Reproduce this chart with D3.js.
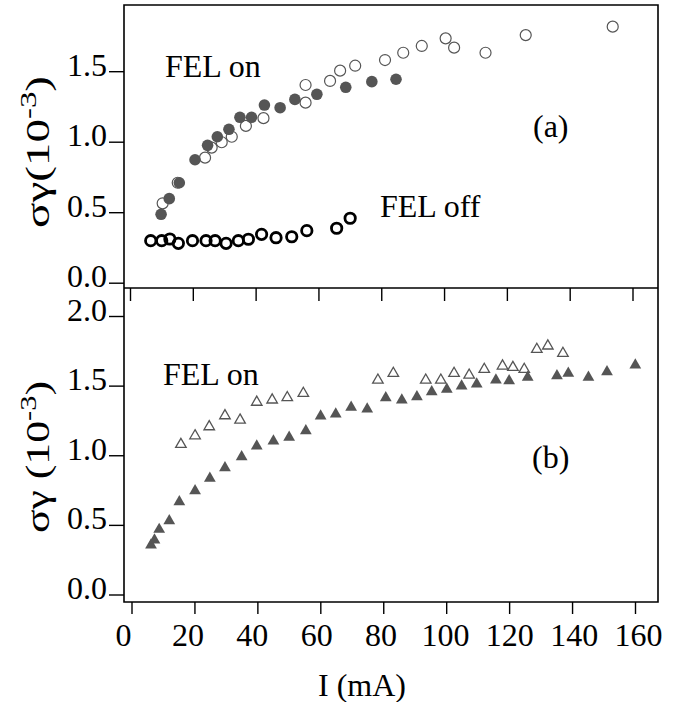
<!DOCTYPE html>
<html><head><meta charset="utf-8">
<script src="https://cdn.jsdelivr.net/npm/d3@7"></script>
<style>body{margin:0;background:#fff}svg{display:block}text{font-family:"Liberation Serif","Times New Roman",serif;fill:#000}</style>
</head><body>
<script>
// ---------- data ----------
const xTicks = [0,20,40,60,80,100,120,140,160];
const yTicksTop = [0,0.5,1.0,1.5];
const yTicksBot = [0,0.5,1.0,1.5,2.0];

// (a) FEL off, open black circles
const offI = [6.6,10.1,12.7,15.4,19.9,24.2,27.1,30.6,34.5,37.7,41.9,46.5,51.5,56.3,65.8,70.1];
const offS = [0.298,0.298,0.310,0.279,0.298,0.298,0.298,0.279,0.298,0.308,0.343,0.319,0.326,0.369,0.386,0.457];
// (a) FEL on, filled circles
const onFillI = [9.9,12.5,15.7,20.7,24.7,27.8,31.5,35.0,38.7,42.8,47.8,52.5,59.5,68.7,77.0,84.7];
const onFillS = [0.485,0.596,0.709,0.872,0.974,1.035,1.088,1.173,1.173,1.260,1.241,1.300,1.336,1.386,1.426,1.443];
// (a) FEL on, open circles
const onOpenI = [10.4,15.2,23.9,26.0,29.2,32.4,36.9,42.5,55.9,55.9,63.7,66.9,71.7,81.2,87.0,92.9,100.5,103.2,113.2,126.0,153.7];
const onOpenS = [0.563,0.709,0.887,0.958,0.996,1.035,1.112,1.167,1.277,1.402,1.431,1.504,1.539,1.579,1.631,1.679,1.733,1.667,1.631,1.756,1.816];
// (b) filled triangles
const triFillI = [6.2,7.3,8.8,12.0,15.2,20.2,24.9,29.7,35.0,39.8,45.1,50.1,55.4,60.1,64.9,69.8,74.9,80.8,85.9,90.7,95.4,100.2,104.9,109.7,115.8,120.0,125.9,135.2,138.8,145.2,151.1,160.1];
const triFillS = [0.355,0.391,0.467,0.529,0.666,0.745,0.834,0.910,0.989,1.066,1.102,1.129,1.176,1.281,1.296,1.344,1.332,1.413,1.396,1.420,1.456,1.473,1.497,1.511,1.540,1.535,1.559,1.571,1.588,1.559,1.599,1.647];
// (b) open triangles
const triOpenI = [15.7,20.2,24.7,29.7,34.5,39.8,44.7,49.5,54.6,78.3,83.2,93.5,98.3,102.5,107.3,112.1,117.9,121.2,124.8,128.8,132.3,137.1];
const triOpenS = [1.078,1.140,1.205,1.284,1.253,1.381,1.397,1.414,1.445,1.540,1.588,1.540,1.540,1.588,1.576,1.617,1.641,1.631,1.617,1.761,1.785,1.732];

// ---------- layout ----------
const W = 675, H = 702;
const L = 124, R = 658, T = 5, MID = 288, B = 602;
const FS = 32;
const dark = "#555";

const svg = d3.select("body").append("svg").attr("width", W).attr("height", H);

const xTop = d3.scaleLinear().domain([0,160]).range([130,632.5]);
const xBot = d3.scaleLinear().domain([0,160]).range([131.5,635]);
const xLab = d3.scaleLinear().domain([0,160]).range([123,638]);
const yTop = d3.scaleLinear().domain([0,1.5]).range([282.7,71.2]);
const yBot = d3.scaleLinear().domain([0,2]).range([594.5,316]);

// frame
svg.append("path")
  .attr("d", `M${L},${T}H${R}V${B}H${L}Z M${L},${MID}H${R}`)
  .attr("fill","none").attr("stroke","#000").attr("stroke-width",1.6);

function yAxis(scale, vals){
  const g = svg.append("g").attr("transform",`translate(${L},0)`)
    .call(d3.axisLeft(scale).tickValues(vals).tickSize(15).tickPadding(2).tickFormat(d3.format(".1f")));
  g.select(".domain").remove();
  g.selectAll(".tick line").attr("stroke","#000").attr("stroke-width",1.4);
  g.selectAll(".tick text").attr("dy",null).attr("y",4)
    .style("font-size",FS+"px").style("font-family",'"Liberation Serif",serif').attr("fill","#000");
}
yAxis(yTop, yTicksTop);
yAxis(yBot, yTicksBot);

// shared middle ticks
const gm = svg.append("g").attr("transform",`translate(0,${MID})`)
  .call(d3.axisBottom(xTop).tickValues(xTicks).tickSize(13).tickFormat(""));
gm.select(".domain").remove();
gm.selectAll(".tick line").attr("stroke","#000").attr("stroke-width",1.4);

// bottom axis
const gb = svg.append("g").attr("transform",`translate(0,${B})`)
  .call(d3.axisBottom(xBot).tickValues(xTicks).tickSize(12).tickPadding(9).tickFormat(d3.format("d")));
gb.select(".domain").remove();
gb.selectAll(".tick line").attr("stroke","#000").attr("stroke-width",1.4);
gb.selectAll(".tick text").attr("x",d=>xLab(d)-xBot(d))
  .style("font-size",FS+"px").style("font-family",'"Liberation Serif",serif').attr("fill","#000");

// axis titles
svg.append("text").attr("x",362).attr("y",696).attr("text-anchor","middle")
  .style("font-size",FS+"px").text("I (mA)");

function yTitle(cy, txt){
  const t = svg.append("text").attr("transform",`translate(49,${cy}) rotate(-90)`)
    .attr("text-anchor","middle").style("font-size","33px")
    .attr("textLength",152).attr("lengthAdjust","spacingAndGlyphs");
  t.append("tspan").text(txt);
  t.append("tspan").attr("dy",-13).style("font-size","23px").text("-3");
  t.append("tspan").attr("dy",13).text(")");
}
yTitle(152, "σγ(10");
yTitle(457, "σγ (10");

// annotations
const ann = [["FEL on",165,77],["FEL off",380,217],["(a)",533,137],["FEL on",163,385],["(b)",532,468]];
ann.forEach(a=>svg.append("text").attr("x",a[1]).attr("y",a[2]).style("font-size",FS+"px").text(a[0]));

// ---------- marks ----------
const zip = (a,b)=>a.map((v,i)=>[v,b[i]]);

svg.append("g").selectAll("circle").data(zip(onOpenI,onOpenS)).join("circle")
  .attr("cx",d=>xTop(d[0])).attr("cy",d=>yTop(d[1])).attr("r",5.5)
  .attr("fill","#fff").attr("stroke",dark).attr("stroke-width",1.2);

svg.append("g").selectAll("circle").data(zip(onFillI,onFillS)).join("circle")
  .attr("cx",d=>xTop(d[0])).attr("cy",d=>yTop(d[1])).attr("r",5.8)
  .attr("fill",dark);

svg.append("g").selectAll("circle").data(zip(offI,offS)).join("circle")
  .attr("cx",d=>xTop(d[0])).attr("cy",d=>yTop(d[1])).attr("r",5.2)
  .attr("fill","none").attr("stroke","#000").attr("stroke-width",2.8);

const triFilled = d3.symbol().type(d3.symbolTriangle).size(60);
const triOpen = d3.symbol().type(d3.symbolTriangle).size(48);

svg.append("g").selectAll("path").data(zip(triOpenI,triOpenS)).join("path")
  .attr("d",triOpen).attr("transform",d=>`translate(${xBot(d[0])},${yBot(d[1])})`)
  .attr("fill","#fff").attr("stroke",dark).attr("stroke-width",1.3);

svg.append("g").selectAll("path").data(zip(triFillI,triFillS)).join("path")
  .attr("d",triFilled).attr("transform",d=>`translate(${xBot(d[0])},${yBot(d[1])})`)
  .attr("fill",dark);
</script>
</body></html>
